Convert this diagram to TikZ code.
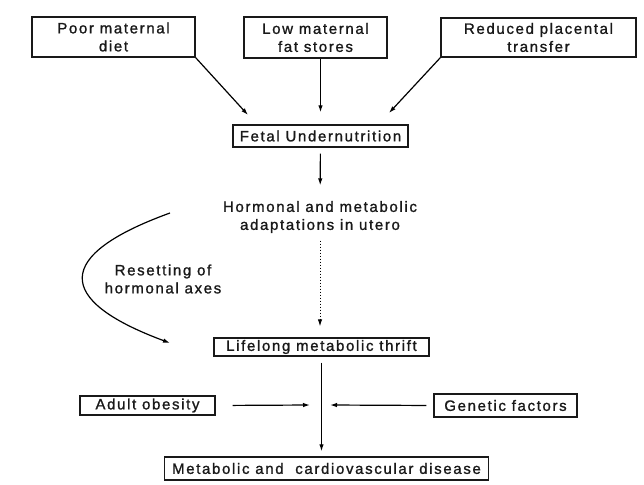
\documentclass[tikz,border=0pt]{standalone}
\usepackage{fontspec}
\setmainfont{Liberation Sans}[LetterSpace=11, FakeBold=1.2]
\usetikzlibrary{arrows.meta}

\begin{document}
\begin{tikzpicture}[x=1pt, y=-1pt, -{Latex[length=7pt,width=4.5pt]}, color=black, line width=1.2pt,
      every node/.append style={font=\fontsize{15}{18}\selectfont, color=black!90, align=center, inner sep=0pt},
      box/.style={draw, line width=1.4pt, minimum width=#1},
      box/.default=100pt]
      \tikzstyle{flow} = [dash pattern=on 1.5pt off 1.5pt, line width=0.9pt]
      \useasboundingbox (0,0) rectangle (644,484);
      % causes
      \node (diet) [box=163pt, minimum height=40pt] at (113.5,37) {Poor maternal\\diet};
      \node (fat) [box=143pt, minimum height=41pt] at (315.5,37.5) {Low maternal\\fat stores};
      \node (placenta) [box=195pt, minimum height=39pt] at (538.5,37.5) {Reduced placental\\transfer};
      \node (fetal) [box=175pt, minimum height=22pt] at (320.5,136) {Fetal Undernutrition};
      % programming
      \node (adapt) at (320,217) {Hormonal and metabolic\\adaptations in utero};
      \node (reset) at (163,279) {Resetting of\\hormonal axes};
      \node (thrift) [box=215pt, minimum height=18pt] at (321.5,347) {Lifelong metabolic thrift};
      % adult life
      \node (obesity) [box=135pt, minimum height=19pt] at (147.5,405.5) {Adult obesity};
      \node (genes) [box=143pt, minimum height=23pt] at (505.5,405.5) {Genetic factors};
      \node (disease) [box=324pt, minimum height=23pt] at (326.5,468.5) {Metabolic and \ cardiovascular disease};
      \coordinate (in_1) at (248,115);
      \coordinate (in_3) at (389,113);
      \coordinate (c_1) at (170,213);
      \coordinate (c_2) at (170,343);
      \coordinate (m_1) at (310,405);
      \coordinate (m_2) at (330,405);
      \draw (diet.south east) -- (in_1);
      \draw[shorten >=12pt] (fetal.north |- fat.south) -- (fetal.north);
      \draw (placenta.south west) -- (in_3);
      \draw[shorten <=6pt, shorten >=15pt] (fetal) -- (adapt);
      \draw[flow, shorten <=7pt, shorten >=11pt] (adapt) -- (adapt |- thrift.north);
      \draw (c_1) .. controls (54,255) and (54,300) .. (c_2);
      \draw[shorten <=6pt, shorten >=5pt] (thrift.south) -- (thrift.south |- disease.north);
      \draw[shorten <=17pt] (obesity.east) -- (m_1);
      \draw[shorten <=7pt] (genes.west) -- (m_2);
\end{tikzpicture}
\end{document}
